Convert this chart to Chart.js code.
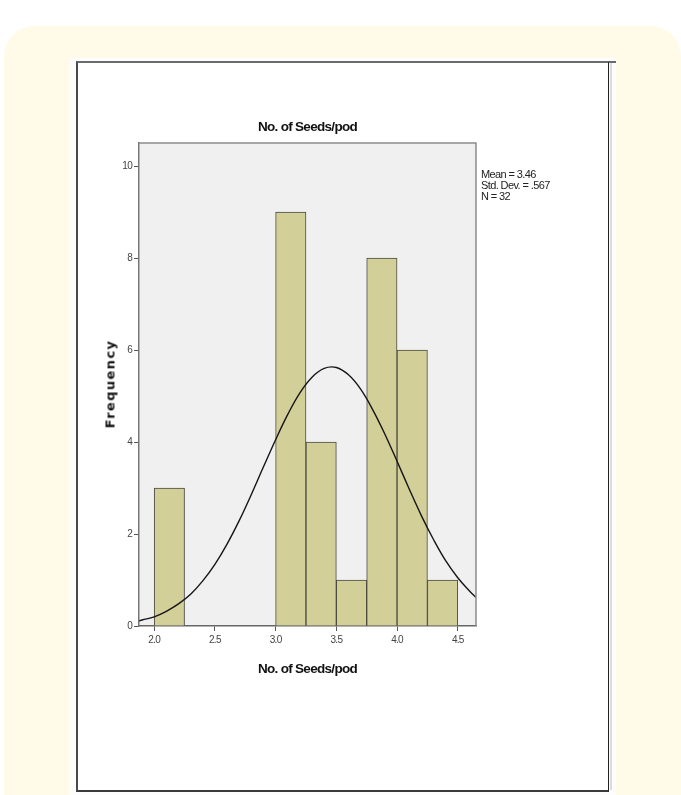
<!DOCTYPE html>
<html>
<head>
<meta charset="utf-8">
<script src="https://cdn.jsdelivr.net/npm/chart.js@4/dist/chart.umd.min.js"></script>
<style>
    body { margin: 0; background: #ffffff; width: 681px; height: 795px; overflow: hidden; position: relative; }
    #panel { position: absolute; left: 4px; top: 26px; width: 677px; height: 800px; background: #fffbe8; border-radius: 30px 30px 0 0; }
    #sheet { position: absolute; left: 70px; top: 58px; width: 546px; height: 740px; background: #fdfdfd; }
    #frame { position: absolute; left: 76px; top: 61px; width: 530px; height: 727px; background: #ffffff;
             border-top: 2px solid #6b6b6b; border-left: 2px solid #4a4a4a; border-bottom: 2px solid #3a3a3a; border-right: 1px solid #222; }
    #frame-top { position: absolute; left: 609px; top: 61px; width: 7px; height: 2px; background: #6b6b6b; }
    #frame-side { position: absolute; left: 610px; top: 63px; width: 2px; height: 727px; background: #dcdcdc; }
    #payChart { position: absolute; left: 77px; top: 62px; }
    #stats { position: absolute; left: 481px; top: 169px; font: 11px "Liberation Sans", Arial, sans-serif;
             letter-spacing: -0.6px; line-height: 11px; color: #222; white-space: pre; }
    #ytitle { position: absolute; left: 110px; top: 384px; transform: translate(-50%, -50%) rotate(-90deg);
              font: bold 13px "DejaVu Sans", Arial, sans-serif; letter-spacing: 1.4px; color: #111; white-space: nowrap; }
</style>
</head>
<body>
<div id="panel"></div>
<div id="sheet"></div>
<div id="frame"></div>
<div id="frame-top"></div>
<div id="frame-side"></div>
<canvas id="payChart" width="530" height="727"></canvas>
<div id="ytitle">Frequency</div>
<div id="stats">Mean = 3.46
Std. Dev. = .567
N = 32</div>
<script>
// Histogram bins (centre of each 0.25 wide bin) and counts
const binCentres = [2.125, 3.125, 3.375, 3.625, 3.875, 4.125, 4.375]
const binCounts = [3, 9, 4, 1, 8, 6, 1]

// Normal curve
const curveX = [1.875, 1.9, 2.0, 2.1, 2.2, 2.3, 2.4, 2.5, 2.6, 2.7, 2.8, 2.9, 3.0, 3.1, 3.2, 3.3, 3.4,
                3.5, 3.6, 3.7, 3.8, 3.9, 4.0, 4.1, 4.2, 4.3, 4.4, 4.5, 4.6, 4.65]
const curveY = [0.11, 0.13, 0.20, 0.32, 0.48, 0.69, 0.98, 1.34, 1.78, 2.29, 2.86, 3.46, 4.05, 4.60, 5.07, 5.41, 5.60,
                5.62, 5.46, 5.15, 4.70, 4.17, 3.58, 2.98, 2.40, 1.88, 1.42, 1.05, 0.75, 0.62]

// Axis ticks
const xTicks = [2.0, 2.5, 3.0, 3.5, 4.0, 4.5]
const yTicks = [0, 2, 4, 6, 8, 10]

const sans = '"Liberation Sans", Arial, sans-serif'

// SPSS text is condensed, squeeze all canvas text a little
const squeezeText = {
    id: 'squeezeText',
    beforeUpdate(chart) { chart.ctx.letterSpacing = '-0.7px' },
    beforeDraw(chart) { chart.ctx.letterSpacing = '-0.7px' }
}

// Plot background and the grey top/right edges
const plotFrame = {
    id: 'plotFrame',
    beforeDraw(chart) {
        const a = chart.chartArea
        const ctx = chart.ctx
        ctx.save()
        ctx.fillStyle = '#f0f0f0'
        ctx.fillRect(a.left, a.top, a.right - a.left, a.bottom - a.top)
        ctx.restore()
    },
    afterDraw(chart) {
        const a = chart.chartArea
        const ctx = chart.ctx
        ctx.save()
        ctx.strokeStyle = '#8c8c8c'
        ctx.lineWidth = 1.5
        ctx.beginPath()
        ctx.moveTo(a.left, a.top)
        ctx.lineTo(a.right, a.top)
        ctx.lineTo(a.right, a.bottom)
        ctx.stroke()
        ctx.restore()
    }
}

// Datasets
const data = {
    datasets: [
    {
        type: 'line',
        label: 'Normal',
        data: curveX.map((x, i) => ({x: x, y: curveY[i]})),
        borderColor: '#151515',
        borderWidth: 1.4,
        pointRadius: 0,
        tension: 0.4,
        fill: false,
        order: 0
    },
    {
        type: 'bar',
        label: 'Frequency',
        data: binCentres.map((x, i) => ({x: x, y: binCounts[i]})),
        backgroundColor: 'rgb(211, 207, 152)',
        borderColor: '#4a4a40',
        borderWidth: 1,
        barPercentage: 1,
        categoryPercentage: 1,
        order: 1
    }
]
}

// Config
const config = {
    type: 'bar',
    data,
    plugins: [squeezeText, plotFrame],
    options: {
        responsive: false,
        animation: false,
        layout: {
            padding: {left: 0, right: 131, top: 0, bottom: 103}
        },
        scales: {
            x: {
                type: 'linear',
                min: 1.875,
                max: 4.65,
                offset: false,
                afterBuildTicks: scale => { scale.ticks = xTicks.map(v => ({value: v})) },
                afterFit: scale => { scale.height = 60 },
                grid: {
                    offset: false,
                    drawOnChartArea: false,
                    drawTicks: true,
                    tickLength: 5,
                    color: '#555'
                },
                border: { display: true, color: '#666', width: 1.5 },
                ticks: {
                    padding: 3,
                    color: '#444',
                    font: { family: sans, size: 10 },
                    maxRotation: 0,
                    callback: v => Number(v).toFixed(1)
                },
                title: {
                    display: true,
                    text: 'No. of Seeds/pod',
                    color: '#111',
                    font: { family: sans, size: 13.5, weight: 'bold' },
                    padding: {top: 0, bottom: 9}
                }
            },
            y: {
                min: 0,
                max: 10.5,
                afterBuildTicks: scale => { scale.ticks = yTicks.map(v => ({value: v})) },
                afterFit: scale => { scale.width = 62 },
                grid: {
                    drawOnChartArea: false,
                    drawTicks: true,
                    tickLength: 5,
                    color: '#555'
                },
                border: { display: true, color: '#777', width: 1.5 },
                ticks: {
                    padding: 2,
                    color: '#444',
                    font: { family: sans, size: 10 }
                },
                title: { display: false }
            }
        },
        plugins: {
            legend: { display: false },
            tooltip: { enabled: false },
            title: {
                display: true,
                fullSize: false,
                text: 'No. of Seeds/pod',
                color: '#111',
                font: { family: sans, size: 13.5, weight: 'bold', lineHeight: 1.2 },
                padding: {top: 57, bottom: 7.8}
            }
        }
    }
}

// Render Chart
const myChart = new Chart(document.getElementById('payChart'), config)
</script>
</body>
</html>
